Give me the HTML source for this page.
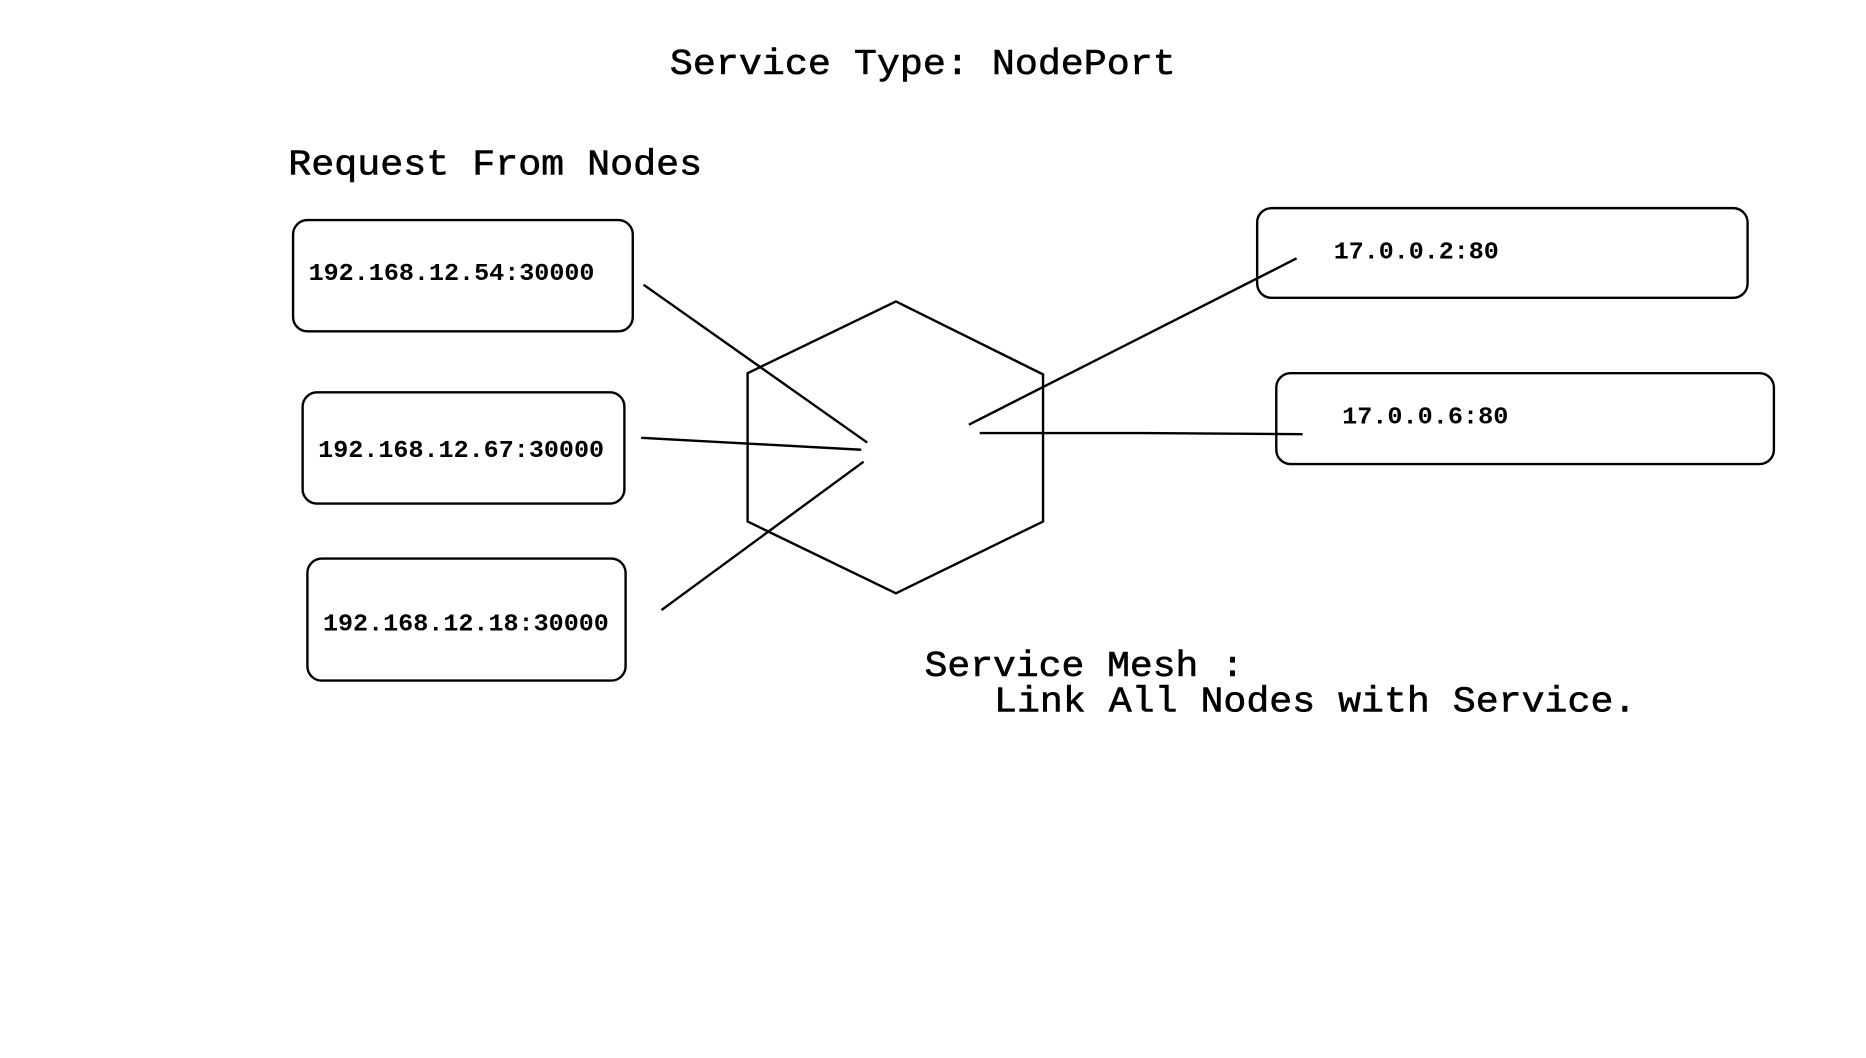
<!DOCTYPE html>
<html><head><meta charset="utf-8"><style>html,body{margin:0;padding:0;background:#fff;}svg{display:block}</style></head>
<body>
<svg width="1866" height="1058" viewBox="0 0 1560 884.5" xmlns="http://www.w3.org/2000/svg">
<rect width="1560" height="884.5" fill="#fff"/>
<g font-family="'Liberation Mono', monospace" fill="#000" stroke="#000" stroke-width="0.5">
<text x="560" y="62" font-size="30" textLength="423" lengthAdjust="spacingAndGlyphs">Service Type: NodePort</text>
<text x="241" y="146" font-size="30" textLength="346" lengthAdjust="spacingAndGlyphs">Request From Nodes</text>
<text x="773" y="565" font-size="30" textLength="267" lengthAdjust="spacingAndGlyphs">Service Mesh :</text>
<text x="831" y="595" font-size="30" textLength="537" lengthAdjust="spacingAndGlyphs">Link All Nodes with Service.</text>
<g font-size="20" font-weight="bold" stroke-width="0">
<text x="258" y="234" textLength="239" lengthAdjust="spacingAndGlyphs">192.168.12.54:30000</text>
<text x="266" y="382" textLength="239" lengthAdjust="spacingAndGlyphs">192.168.12.67:30000</text>
<text x="270" y="527" textLength="239" lengthAdjust="spacingAndGlyphs">192.168.12.18:30000</text>
<text x="1115" y="216" textLength="138" lengthAdjust="spacingAndGlyphs">17.0.0.2:80</text>
<text x="1122" y="354" textLength="139" lengthAdjust="spacingAndGlyphs">17.0.0.6:80</text>
</g>
</g>
<g fill="none" stroke="#000" stroke-width="2">
<rect x="245" y="184" width="284" height="93" rx="12"/>
<rect x="253" y="328" width="269" height="93" rx="12"/>
<rect x="257" y="467" width="266" height="102" rx="12"/>
<rect x="1051" y="174" width="410" height="75" rx="12"/>
<rect x="1067" y="312" width="416" height="76" rx="12"/>
<polygon points="749,252 872,313 872,436 749,496 625,436 625,312"/>
<line x1="538" y1="238" x2="725" y2="370"/>
<line x1="536" y1="366" x2="720" y2="376"/>
<line x1="553" y1="510" x2="722" y2="386"/>
<line x1="810" y1="355" x2="1084" y2="216"/>
<polyline points="819,362 955,362 1089,363"/>
</g>
</svg>
</body></html>
